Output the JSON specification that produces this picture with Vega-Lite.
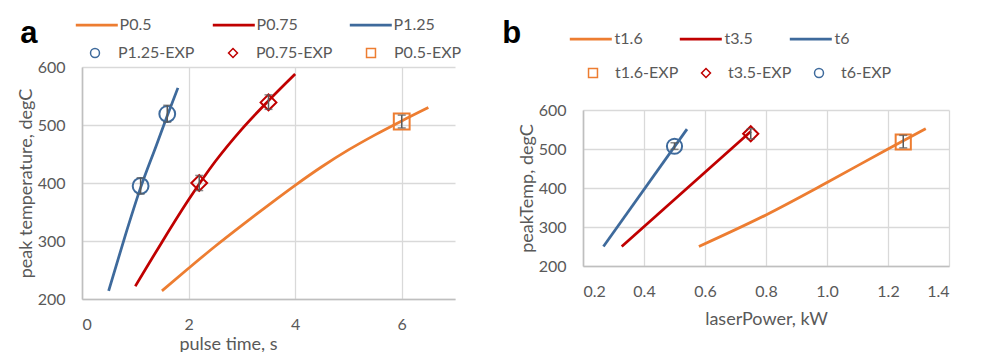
{
  "$schema": "https://vega.github.io/schema/vega-lite/v6.json",
  "background": "white",
  "padding": {"left": 17, "top": 0, "right": 5, "bottom": 0},
  "spacing": 40,
  "config": {
    "font": "Lato",
    "view": {"stroke": null},
    "axis": {
      "labelFont": "Lato", "labelFontSize": 16, "labelColor": "#595959",
      "titleFont": "Lato", "titleFontSize": 18, "titleColor": "#595959", "titleFontWeight": "normal",
      "gridColor": "#d9d9d9", "gridWidth": 1.3, "domainColor": "#bfbfbf", "domainWidth": 1.6,
      "ticks": false, "labelPadding": 17, "titlePadding": 2
    },
    "legend": {"labelFont": "Lato", "labelFontSize": 16, "labelColor": "#595959"}
  },
  "datasets": {
    "lines_a": [
      {"s": "P0.5", "t": 1.5, "T": 214}, {"s": "P0.5", "t": 2, "T": 253}, {"s": "P0.5", "t": 2.5, "T": 291},
      {"s": "P0.5", "t": 3, "T": 327}, {"s": "P0.5", "t": 3.5, "T": 362}, {"s": "P0.5", "t": 4, "T": 396},
      {"s": "P0.5", "t": 4.5, "T": 428}, {"s": "P0.5", "t": 5, "T": 457}, {"s": "P0.5", "t": 5.5, "T": 483},
      {"s": "P0.5", "t": 6, "T": 507}, {"s": "P0.5", "t": 6.5, "T": 530},
      {"s": "P0.75", "t": 1, "T": 222}, {"s": "P0.75", "t": 1.5, "T": 298}, {"s": "P0.75", "t": 2, "T": 371},
      {"s": "P0.75", "t": 2.5, "T": 437}, {"s": "P0.75", "t": 3, "T": 493}, {"s": "P0.75", "t": 3.5, "T": 542},
      {"s": "P0.75", "t": 4, "T": 588},
      {"s": "P1.25", "t": 0.5, "T": 214}, {"s": "P1.25", "t": 0.8, "T": 306}, {"s": "P1.25", "t": 1.1, "T": 392},
      {"s": "P1.25", "t": 1.4, "T": 466}, {"s": "P1.25", "t": 1.6, "T": 516}, {"s": "P1.25", "t": 1.8, "T": 564}
    ],
    "exp_a": [
      {"s": "P1.25-EXP", "t": 1.1, "T": 395, "lo": 381, "hi": 409},
      {"s": "P1.25-EXP", "t": 1.6, "T": 519, "lo": 505, "hi": 534},
      {"s": "P0.75-EXP", "t": 2.2, "T": 400, "lo": 387, "hi": 413},
      {"s": "P0.75-EXP", "t": 3.5, "T": 539, "lo": 527, "hi": 552},
      {"s": "P0.5-EXP", "t": 6, "T": 506, "lo": 495, "hi": 517}
    ],
    "lines_b": [
      {"s": "t1.6", "p": 0.58, "T": 250}, {"s": "t1.6", "p": 0.8, "T": 331}, {"s": "t1.6", "p": 1.0, "T": 414},
      {"s": "t1.6", "p": 1.2, "T": 500}, {"s": "t1.6", "p": 1.324, "T": 552},
      {"s": "t3.5", "p": 0.327, "T": 250}, {"s": "t3.5", "p": 0.75, "T": 545},
      {"s": "t6", "p": 0.267, "T": 250}, {"s": "t6", "p": 0.541, "T": 551}
    ],
    "exp_b": [
      {"s": "t1.6-EXP", "p": 1.25, "T": 518, "lo": 503, "hi": 535},
      {"s": "t3.5-EXP", "p": 0.75, "T": 539, "lo": 526, "hi": 552},
      {"s": "t6-EXP", "p": 0.5, "T": 507, "lo": 499, "hi": 516}
    ]
  },
  "resolve": {
    "scale": {"color": "independent", "stroke": "independent", "shape": "independent"},
    "legend": {"color": "independent", "stroke": "independent", "shape": "independent"}
  },
  "hconcat": [
    {
      "spacing": 0,
      "resolve": {
        "scale": {"color": "independent", "stroke": "independent", "shape": "independent"},
        "legend": {"color": "independent", "stroke": "independent", "shape": "independent"}
      },
      "vconcat": [
        {"width": 10, "height": 17, "data": {"values": []}, "mark": "point"},
        {
          "width": 373,
          "height": 232,
          "title": {"text": "a", "anchor": "start", "frame": "bounds", "fontSize": 31, "font": "Liberation Sans", "fontWeight": "bold", "color": "black", "baseline": "alphabetic", "offset": 0, "dy": 57, "dx": 3},
          "encoding": {
            "x": {"field": "t", "type": "quantitative", "scale": {"domain": [0, 7], "nice": false}, "axis": {"values": [0, 2, 4, 6], "title": "pulse time, s", "titleAnchor": "middle", "titleAlign": "center", "titleX": 146, "titlePadding": 3}},
            "y": {"field": "T", "type": "quantitative", "scale": {"domain": [200, 600], "nice": false}, "axis": {"values": [200, 300, 400, 500, 600], "title": "peak temperature, degC"}}
          },
          "layer": [
            {
              "data": {"name": "lines_a"},
              "mark": {"type": "line", "strokeWidth": 2.75, "interpolate": "monotone"},
              "encoding": {
                "color": {"field": "s", "type": "nominal",
                  "scale": {"domain": ["P0.5", "P0.75", "P1.25"], "range": ["#ED7D31", "#C00000", "#3E6A9C"]},
                  "legend": {"orient": "none", "legendX": -10, "legendY": -50, "direction": "horizontal", "columns": 3, "title": null,
                    "symbolType": "M-1,0H9", "symbolSize": 70.56, "symbolStrokeWidth": 2.75, "labelOffset": 31.6, "columnPadding": 46, "gridAlign": "all"}}
              }
            },
            {
              "data": {"name": "exp_a"},
              "mark": {"type": "point", "filled": false, "strokeWidth": 2, "size": 250, "opacity": 1},
              "encoding": {
                "stroke": {"field": "s", "type": "nominal",
                  "scale": {"domain": ["P1.25-EXP", "P0.75-EXP", "P0.5-EXP"], "range": ["#3E6A9C", "#C00000", "#ED7D31"]},
                  "legend": {"orient": "none", "legendX": 5, "legendY": -22, "direction": "horizontal", "columns": 3, "title": null,
                    "symbolSize": 80, "symbolStrokeWidth": 1.5, "labelOffset": 15, "columnPadding": 30, "gridAlign": "all"}},
                "shape": {"field": "s", "type": "nominal",
                  "scale": {"domain": ["P1.25-EXP", "P0.75-EXP", "P0.5-EXP"], "range": ["circle", "diamond", "square"]},
                  "legend": {"orient": "none", "legendX": 5, "legendY": -22, "direction": "horizontal", "columns": 3, "title": null,
                    "symbolSize": 80, "symbolStrokeWidth": 1.5, "labelOffset": 15, "columnPadding": 30, "gridAlign": "all"}}
              }
            },
            {
              "data": {"name": "exp_a"},
              "mark": {"type": "rule", "color": "#595959", "strokeWidth": 1.5},
              "encoding": {"y": {"field": "lo", "type": "quantitative"}, "y2": {"field": "hi"}}
            },
            {
              "data": {"name": "exp_a"},
              "mark": {"type": "tick", "orient": "horizontal", "size": 8, "thickness": 1.5, "color": "#595959"},
              "encoding": {"y": {"field": "lo", "type": "quantitative"}}
            },
            {
              "data": {"name": "exp_a"},
              "mark": {"type": "tick", "orient": "horizontal", "size": 8, "thickness": 1.5, "color": "#595959"},
              "encoding": {"y": {"field": "hi", "type": "quantitative"}}
            }
          ]
        }
      ]
    },
    {
      "spacing": 0,
      "resolve": {
        "scale": {"color": "independent", "stroke": "independent", "shape": "independent"},
        "legend": {"color": "independent", "stroke": "independent", "shape": "independent"}
      },
      "vconcat": [
        {"width": 10, "height": 18, "data": {"values": []}, "mark": "point"},
        {
          "width": 366,
          "height": 156,
          "title": {"text": "b", "anchor": "start", "frame": "bounds", "fontSize": 31, "font": "Liberation Sans", "fontWeight": "bold", "color": "black", "baseline": "alphabetic", "offset": 0, "dy": 43, "dx": -16},
          "encoding": {
            "x": {"field": "p", "type": "quantitative", "scale": {"domain": [0.2, 1.4], "nice": false}, "axis": {"values": [0.2, 0.4, 0.6, 0.8, 1.0, 1.2, 1.4], "format": ".1f", "title": "laserPower, kW", "titlePadding": 11}},
            "y": {"field": "T", "type": "quantitative", "scale": {"domain": [200, 600], "nice": false}, "axis": {"values": [200, 300, 400, 500, 600], "title": "peakTemp, degC", "titlePadding": 2}}
          },
          "layer": [
            {
              "data": {"name": "lines_b"},
              "mark": {"type": "line", "strokeWidth": 2.75, "interpolate": "monotone"},
              "encoding": {
                "color": {"field": "s", "type": "nominal",
                  "scale": {"domain": ["t1.6", "t3.5", "t6"], "range": ["#ED7D31", "#C00000", "#3E6A9C"]},
                  "legend": {"orient": "none", "legendX": -17, "legendY": -79, "direction": "horizontal", "columns": 3, "title": null,
                    "symbolType": "M-1,0H9", "symbolSize": 70.56, "symbolStrokeWidth": 2.75, "labelOffset": 32.6, "columnPadding": 31, "gridAlign": "all"}}
              }
            },
            {
              "data": {"name": "exp_b"},
              "mark": {"type": "point", "filled": false, "strokeWidth": 2, "size": 230, "opacity": 1},
              "encoding": {
                "stroke": {"field": "s", "type": "nominal",
                  "scale": {"domain": ["t1.6-EXP", "t3.5-EXP", "t6-EXP"], "range": ["#ED7D31", "#C00000", "#3E6A9C"]},
                  "legend": {"orient": "none", "legendX": 2, "legendY": -45, "direction": "horizontal", "columns": 3, "title": null,
                    "symbolSize": 80, "symbolStrokeWidth": 1.5, "labelOffset": 14, "columnPadding": 19, "gridAlign": "all"}},
                "shape": {"field": "s", "type": "nominal",
                  "scale": {"domain": ["t1.6-EXP", "t3.5-EXP", "t6-EXP"], "range": ["square", "diamond", "circle"]},
                  "legend": {"orient": "none", "legendX": 2, "legendY": -45, "direction": "horizontal", "columns": 3, "title": null,
                    "symbolSize": 80, "symbolStrokeWidth": 1.5, "labelOffset": 14, "columnPadding": 19, "gridAlign": "all"}}
              }
            },
            {
              "data": {"name": "exp_b"},
              "mark": {"type": "rule", "color": "#595959", "strokeWidth": 1.5},
              "encoding": {"y": {"field": "lo", "type": "quantitative"}, "y2": {"field": "hi"}}
            },
            {
              "data": {"name": "exp_b"},
              "mark": {"type": "tick", "orient": "horizontal", "size": 8, "thickness": 1.5, "color": "#595959"},
              "encoding": {"y": {"field": "lo", "type": "quantitative"}}
            },
            {
              "data": {"name": "exp_b"},
              "mark": {"type": "tick", "orient": "horizontal", "size": 8, "thickness": 1.5, "color": "#595959"},
              "encoding": {"y": {"field": "hi", "type": "quantitative"}}
            }
          ]
        }
      ]
    }
  ]
}
